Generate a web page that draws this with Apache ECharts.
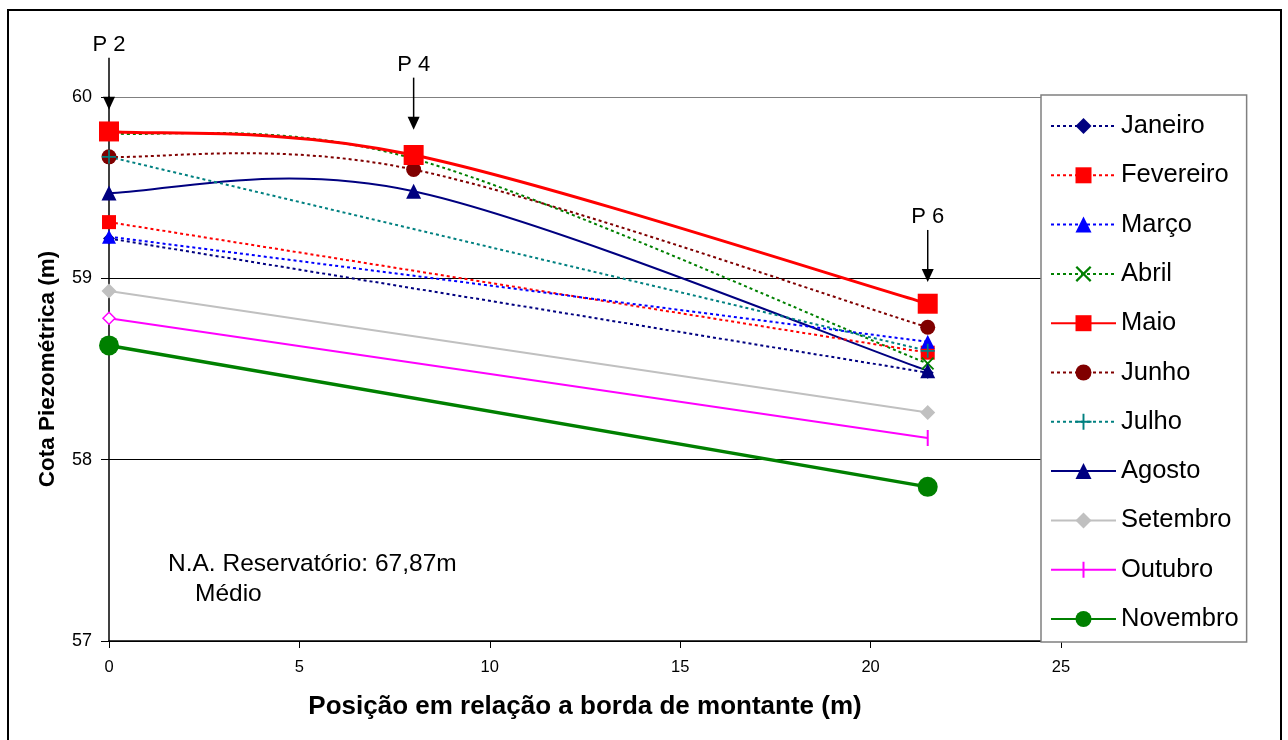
<!DOCTYPE html>
<html>
<head>
<meta charset="utf-8">
<script src="https://cdn.jsdelivr.net/npm/echarts@6/dist/echarts.min.js"></script>
<style>
html,body{margin:0;padding:0;background:#fff;}
#chart{width:1288px;height:740px;}
</style>
</head>
<body>
<div id="chart"></div>
<script>
// ---- data ----
const months = ['Janeiro','Fevereiro','Março','Abril','Maio','Junho','Julho','Agosto','Setembro','Outubro','Novembro'];
const janeiro   = [[0, 59.22], [21.5, 58.48]];
const fevereiro = [[0, 59.31], [21.5, 58.59]];
const marco     = [[0, 59.23], [21.5, 58.65]];
const abril     = [[0, 59.80], [8, 59.66], [21.5, 58.53]];
const maio      = [[0, 59.81], [8, 59.68], [21.5, 58.86]];
const junho     = [[0, 59.67], [8, 59.60], [21.5, 58.73]];
const julho     = [[0, 59.67], [21.5, 58.60]];
const agosto    = [[0, 59.47], [8, 59.48], [21.5, 58.49]];
const setembro  = [[0, 58.93], [21.5, 58.26]];
const outubro   = [[0, 58.78], [21.5, 58.12]];
const novembro  = [[0, 58.63], [21.5, 57.85]];
const xTicks = [0, 5, 10, 15, 20, 25];
const yTicks = [57, 58, 59, 60];
const probeLabels = ['P 2', 'P 4', 'P 6'];
const probeX = [0, 8, 21.5];
const probeTipY = [59.93, 59.82, 58.98];
const noteLines = ['N.A. Reservatório: 67,87m', 'Médio'];

const FONT = '"Liberation Sans", Arial, sans-serif';
const XPATH = 'path://M0,1L1,0L5,4L9,0L10,1L6,5L10,9L9,10L5,6L1,10L0,9L4,5Z';
const PLUSPATH = 'path://M4.4,0H5.6V4.4H10V5.6H5.6V10H4.4V5.6H0V4.4H4.4Z';
const BARPATH = 'path://M7,0H9V16H7Z M0,8L0.01,8.01 M16,8L15.99,8.01';
const DOT = [3, 3];

function dotted(name, data, color, symbol, size, extra) {
  return Object.assign({
    name, type: 'line', data, symbol, symbolSize: size, clip: false,
    showSymbol: true,
    lineStyle: {color, width: 2, type: DOT},
    itemStyle: {color, borderWidth: 0}
  }, extra || {});
}
function solid(name, data, color, symbol, size, width, extra) {
  return Object.assign({
    name, type: 'line', data, symbol, symbolSize: size, clip: false,
    lineStyle: {color, width, type: 'solid'},
    itemStyle: {color, borderWidth: 0}
  }, extra || {});
}

// Excel-style smoothed curve (Bezier through the data points), drawn via the axes' scales
function curve(name, pts, color, width, dash) {
  return {
    name: name + ' (curva)', type: 'custom', coordinateSystem: 'cartesian2d', data: pts,
    encode: {x: 0, y: 1}, z: 1, silent: true,
    renderItem: function (params, api) {
      const i = params.dataIndex;
      if (i >= pts.length - 1) return null;
      const c = pts.map(p => api.coord(p));
      const p0 = c[Math.max(i - 1, 0)], p1 = c[i], p2 = c[i + 1], p3 = c[Math.min(i + 2, c.length - 1)];
      return {
        type: 'bezierCurve',
        shape: {
          x1: p1[0], y1: p1[1], x2: p2[0], y2: p2[1],
          cpx1: p1[0] + (p2[0] - p0[0]) / 6, cpy1: p1[1] + (p2[1] - p0[1]) / 6,
          cpx2: p2[0] - (p3[0] - p1[0]) / 6, cpy2: p2[1] - (p3[1] - p1[1]) / 6
        },
        style: {stroke: color, lineWidth: width, lineDash: dash || null, fill: null}
      };
    }
  };
}

const outData = outubro.map((p, i) => i === 0
  ? {value: p, symbol: 'diamond', symbolSize: 12, itemStyle: {color: '#fff', borderColor: '#FF00FF', borderWidth: 1.5}}
  : {value: p});

const series = [
  curve('Abril', abril, '#008000', 2, DOT),
  curve('Maio', maio, '#FF0000', 3, null),
  curve('Junho', junho, '#800000', 2, DOT),
  curve('Agosto', agosto, '#000080', 2, null),
  dotted('Janeiro', janeiro, '#000080', 'diamond', 12),
  dotted('Fevereiro', fevereiro, '#FF0000', 'rect', 14),
  dotted('Março', marco, '#0000FF', 'triangle', 14),
  dotted('Abril', abril, '#008000', XPATH, 13, {lineStyle: {color: '#008000', width: 2, type: DOT, opacity: 0}}),
  solid('Maio', maio, '#FF0000', 'rect', 20, 3, {z: 5, lineStyle: {color: '#FF0000', width: 3, opacity: 0}}),
  dotted('Junho', junho, '#800000', 'circle', 15, {lineStyle: {color: '#800000', width: 2, type: DOT, opacity: 0}}),
  dotted('Julho', julho, '#008080', PLUSPATH, 14),
  solid('Agosto', agosto, '#000080', 'triangle', 15, 2, {lineStyle: {color: '#000080', width: 2, opacity: 0}}),
  solid('Setembro', setembro, '#C0C0C0', 'diamond', 15, 2),
  solid('Outubro', outData, '#FF00FF', BARPATH, 16, 2),
  solid('Novembro', novembro, '#008000', 'circle', 20, 3.5)
];

const curvedMonths = ['Abril', 'Maio', 'Junho', 'Agosto'];
const legendData = months.map(m => curvedMonths.includes(m) ? {name: m, lineStyle: {opacity: 1}} : {name: m});

const chart = echarts.init(document.getElementById('chart'));
chart.setOption({
  animation: false,
  backgroundColor: '#fff',
  textStyle: {fontFamily: FONT},
  grid: {left: 109, right: 227, top: 97, bottom: 99},
  xAxis: {
    type: 'value', min: xTicks[0], max: xTicks[xTicks.length - 1], interval: 5,
    name: 'Posição em relação a borda de montante (m)',
    nameLocation: 'middle', nameGap: 53,
    nameTextStyle: {fontSize: 26, fontWeight: 'bold', color: '#000', fontFamily: FONT},
    axisLine: {onZero: false, lineStyle: {color: '#000', width: 1.5}},
    axisTick: {show: true, length: 7, lineStyle: {color: '#000'}},
    axisLabel: {fontSize: 16.5, color: '#000', margin: 18, fontFamily: FONT},
    splitLine: {show: false}
  },
  yAxis: {
    type: 'value', min: yTicks[0], max: yTicks[yTicks.length - 1], interval: 1,
    name: 'Cota Piezométrica (m)',
    nameLocation: 'middle', nameGap: 50,
    nameTextStyle: {fontSize: 22.5, fontWeight: 'bold', color: '#000', fontFamily: FONT},
    axisLine: {show: true, onZero: false, lineStyle: {color: '#000', width: 1.5}},
    axisTick: {show: true, length: 8, lineStyle: {color: '#000'}},
    axisLabel: {fontSize: 18, color: '#000', margin: 17, fontFamily: FONT},
    splitLine: {show: true, lineStyle: {color: ['#000', '#000', '#000', '#808080'], width: 1}}
  },
  legend: {
    orient: 'vertical', left: 1041, top: 95,
    data: legendData,
    backgroundColor: '#fff', borderColor: '#808080', borderWidth: 1.5,
    padding: [18, 8, 10, 9],
    itemWidth: 65, itemHeight: 20, itemGap: 23.3,
    textStyle: {fontSize: 25.5, color: '#000', lineHeight: 24, fontFamily: FONT},
    selectedMode: false
  },
  series
});

// annotations positioned through the chart's own coordinate system
const graphics = [{
  type: 'rect', shape: {x: 8, y: 10, width: 1273, height: 740}, silent: true,
  style: {fill: 'none', stroke: '#000', lineWidth: 2}, z: 100
}];
probeLabels.forEach((lab, i) => {
  const tip = chart.convertToPixel({gridIndex: 0}, [probeX[i], probeTipY[i]]);
  const x = tip[0], y = tip[1];
  graphics.push({type: 'line', shape: {x1: x, y1: y - 52, x2: x, y2: y - 10}, style: {stroke: '#000', lineWidth: 1.5}, z: 50});
  graphics.push({type: 'polygon', shape: {points: [[x - 6, y - 13], [x + 6, y - 13], [x, y]]}, style: {fill: '#000'}, z: 50});
  graphics.push({type: 'text', x: x, y: y - 54, style: {text: lab, font: '22px ' + FONT, fill: '#000', align: 'center', verticalAlign: 'bottom'}, z: 50});
});
graphics.push({type: 'text', left: 168, top: 552, style: {text: noteLines[0], font: '24.5px ' + FONT, fill: '#000'}, z: 50});
graphics.push({type: 'text', left: 195, top: 582, style: {text: noteLines[1], font: '24.5px ' + FONT, fill: '#000'}, z: 50});
chart.setOption({graphic: graphics});
</script>
</body>
</html>
